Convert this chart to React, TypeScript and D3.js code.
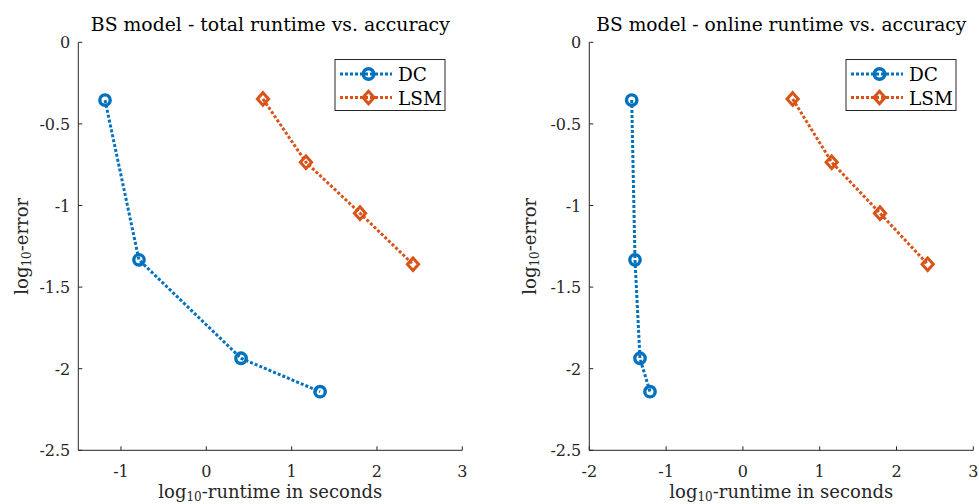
import React from "react";
import * as d3 from "d3";

// ---- data ----
const seriesNames = ["DC", "LSM"];
const dcTotalX = [-1.187, -0.789, 0.407, 1.333];
const dcOnlineX = [-1.448, -1.405, -1.34, -1.21];
const dcY = [-0.354, -1.333, -1.936, -2.141];
const lsmTotalX = [0.664, 1.168, 1.801, 2.422];
const lsmOnlineX = [0.648, 1.156, 1.785, 2.406];
const lsmY = [-0.347, -0.735, -1.047, -1.36];
const yTicks = [0, -0.5, -1, -1.5, -2, -2.5];
const yTickLabels = ["0", "-0.5", "-1", "-1.5", "-2", "-2.5"];
const leftXTicks = [-1, 0, 1, 2, 3];
const rightXTicks = [-2, -1, 0, 1, 2, 3];
const titles = [
  "BS model - total runtime vs. accuracy",
  "BS model - online runtime vs. accuracy",
];

const BLUE = "#0072BD";
const ORANGE = "#D95319";
const AX = "#262626";
const FONT = "DejaVu Serif, serif";
const fs = (size: number) => ({ fontFamily: FONT, fontSize: size });

type PanelProps = {
  x0: number;
  x1: number;
  xDomain: [number, number];
  xTicks: number[];
  dcX: number[];
  lsmX: number[];
  title: string;
  titleLen: number;
  legendX: number;
  yLabelX: number;
};

const Y0 = 42.3;
const Y1 = 450.3;
const LW = 3;
const DASH = "3 2";

function Diamond({ cx, cy, color }: { cx: number; cy: number; color: string }) {
  const h = 6.3;
  const w = 5.6;
  return (
    <path
      d={`M${cx},${cy - h}L${cx + w},${cy}L${cx},${cy + h}L${cx - w},${cy}Z`}
      fill="none"
      stroke={color}
      strokeWidth={3}
      strokeLinejoin="miter"
    />
  );
}

function Circle({ cx, cy, color }: { cx: number; cy: number; color: string }) {
  return <circle cx={cx} cy={cy} r={5.2} fill="none" stroke={color} strokeWidth={3.4} />;
}

function Panel(p: PanelProps) {
  const x = d3.scaleLinear().domain(p.xDomain).range([p.x0, p.x1]);
  const y = d3.scaleLinear().domain([-2.5, 0]).range([Y1, Y0]);
  const line = d3
    .line<[number, number]>()
    .x((d) => x(d[0]))
    .y((d) => y(d[1]));
  const dcPts = p.dcX.map((v, i) => [v, dcY[i]] as [number, number]);
  const lsmPts = p.lsmX.map((v, i) => [v, lsmY[i]] as [number, number]);
  const cx = (p.x0 + p.x1) / 2;
  const cy = (Y0 + Y1) / 2;
  const lg = p.legendX;
  const lgRows = [74, 97.5];
  return (
    <g>
      {/* axes */}
      <line x1={p.x0} x2={p.x1} y1={Y1} y2={Y1} stroke={AX} strokeWidth={1} />
      <line x1={p.x0} x2={p.x0} y1={Y0} y2={Y1} stroke={AX} strokeWidth={1} />
      {p.xTicks.map((t) => (
        <g key={"xt" + t}>
          <line x1={x(t)} x2={x(t)} y1={Y1} y2={Y1 - 4} stroke={AX} strokeWidth={1} />
          <text x={x(t)} y={476.5} textAnchor="middle" fill={AX} style={fs(16)}>
            {t}
          </text>
        </g>
      ))}
      {yTicks.map((t, i) => (
        <g key={"yt" + t}>
          <line x1={p.x0} x2={p.x0 + 4} y1={y(t)} y2={y(t)} stroke={AX} strokeWidth={1} />
          <text x={p.x0 - 8} y={y(t) + 6} textAnchor="end" fill={AX} style={fs(16)}>
            {yTickLabels[i]}
          </text>
        </g>
      ))}
      {/* title */}
      <text
        x={cx}
        y={31}
        textAnchor="middle"
        fill="#000"
        style={fs(18)}
        textLength={p.titleLen}
        lengthAdjust="spacingAndGlyphs"
      >
        {p.title}
      </text>
      {/* x label */}
      <text x={cx} y={498} textAnchor="middle" fill={AX} style={fs(18)}>
        log
        <tspan style={fs(12)} dy={3}>10</tspan>
        <tspan dy={-3}>-runtime in seconds</tspan>
      </text>
      {/* y label */}
      <text
        transform={`translate(${p.yLabelX},${cy}) rotate(-90)`}
        textAnchor="middle"
        fill={AX}
        style={fs(18)}
      >
        log
        <tspan style={fs(12)} dy={3}>10</tspan>
        <tspan dy={-3}>-error</tspan>
      </text>
      {/* series */}
      <path d={line(dcPts) || ""} fill="none" stroke={BLUE} strokeWidth={LW} strokeDasharray={DASH} />
      <path d={line(lsmPts) || ""} fill="none" stroke={ORANGE} strokeWidth={LW} strokeDasharray={DASH} />
      {dcPts.map((d, i) => (
        <Circle key={"dc" + i} cx={x(d[0])} cy={y(d[1])} color={BLUE} />
      ))}
      {lsmPts.map((d, i) => (
        <Diamond key={"lsm" + i} cx={x(d[0])} cy={y(d[1])} color={ORANGE} />
      ))}
      {/* legend */}
      <rect x={lg} y={59.5} width={110} height={51} fill="#fff" stroke={AX} strokeWidth={1} />
      {seriesNames.map((name, i) => {
        const ry = lgRows[i];
        const color = i === 0 ? BLUE : ORANGE;
        const mx = lg + 33.5;
        return (
          <g key={name}>
            <line
              x1={lg + 5}
              x2={lg + 57}
              y1={ry}
              y2={ry}
              stroke={color}
              strokeWidth={LW}
              strokeDasharray={DASH}
            />
            {i === 0 ? <Circle cx={mx} cy={ry} color={color} /> : <Diamond cx={mx} cy={ry} color={color} />}
            <text x={lg + 63} y={ry + 7} fill="#000" style={fs(18.5)}>
              {name}
            </text>
          </g>
        );
      })}
    </g>
  );
}

export default function App() {
  return (
    <svg
      width={979}
      height={504}
      style={{ position: "absolute", left: 0, top: 0, background: "#fff" }}
    >
      <rect width={979} height={504} fill="#fff" />
      <Panel
        x0={78.3}
        x1={462.3}
        xDomain={[-1.5, 3]}
        xTicks={leftXTicks}
        dcX={dcTotalX}
        lsmX={lsmTotalX}
        title={titles[0]}
        titleLen={359}
        legendX={335}
        yLabelX={28}
      />
      <Panel
        x0={589.3}
        x1={973.3}
        xDomain={[-2, 3]}
        xTicks={rightXTicks}
        dcX={dcOnlineX}
        lsmX={lsmOnlineX}
        title={titles[1]}
        titleLen={370}
        legendX={846}
        yLabelX={536}
      />
    </svg>
  );
}
